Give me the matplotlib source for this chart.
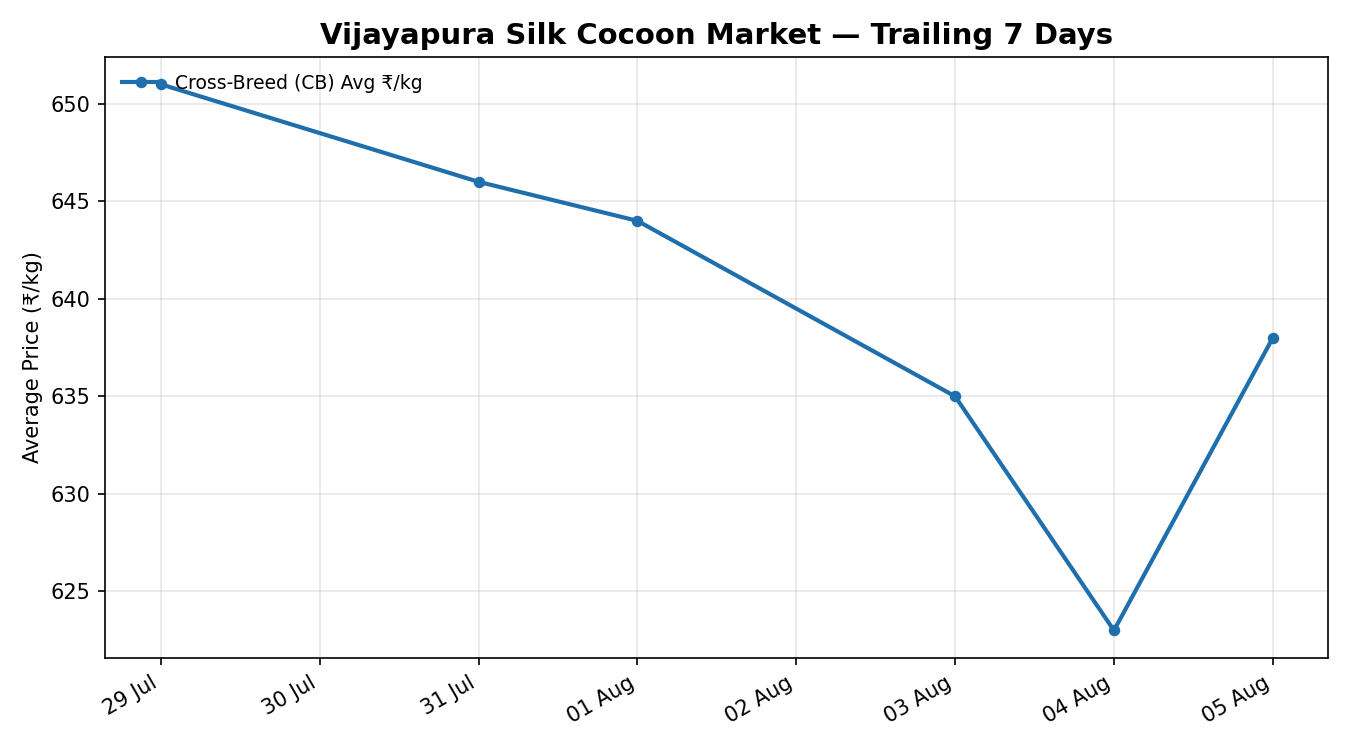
import matplotlib
matplotlib.use("Agg")
import matplotlib.pyplot as plt
import matplotlib.dates as mdates
import pandas as pd

# dữ liệu giá kén tằm
dates = pd.to_datetime(["2024-07-29", "2024-07-31", "2024-08-01",
                        "2024-08-03", "2024-08-04", "2024-08-05"])
cb_price = [651, 646, 644, 635, 623, 638]

fig, ax = plt.subplots(figsize=(9, 5), dpi=150)
ax.plot(dates, cb_price, color="#1f6fad", lw=2, marker="o", ms=4.5,
        label="Cross-Breed (CB) Avg ₹/kg")

ax.set_title("Vijayapura Silk Cocoon Market — Trailing 7 Days",
             fontsize=14, fontweight="bold")
ax.set_ylabel("Average Price (₹/kg)")
ax.xaxis.set_major_locator(mdates.DayLocator())
ax.xaxis.set_major_formatter(mdates.DateFormatter("%d %b"))
ax.grid(True, alpha=0.3)
ax.legend(loc="upper left", frameon=False, fontsize=9)
fig.autofmt_xdate()
fig.subplots_adjust(left=0.078, right=0.984, top=0.924, bottom=0.123)
fig.savefig("out.png")
